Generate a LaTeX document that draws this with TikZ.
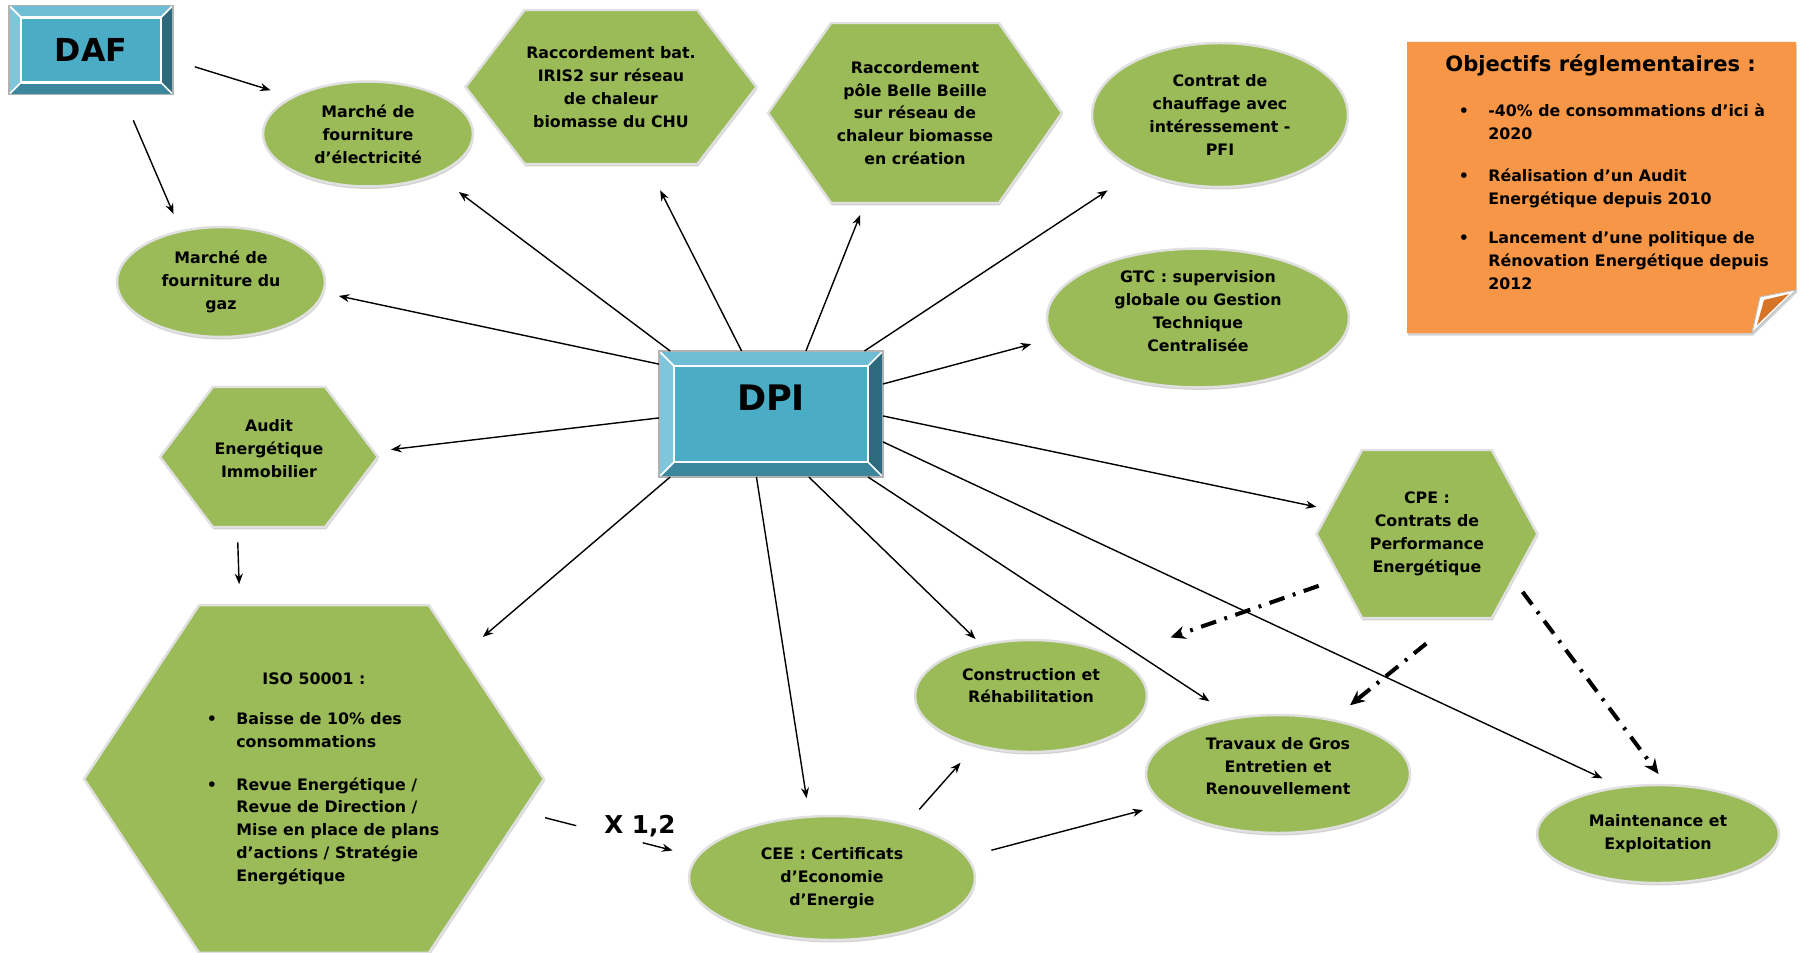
\documentclass[tikz,border=0pt]{standalone}
\usepackage{fontspec}
\setmainfont{DejaVu Sans}
\usetikzlibrary{shapes.geometric, shapes.symbols, arrows.meta, calc, shadows}

\definecolor{leaf}{RGB}{155,187,89}
\definecolor{aqua}{RGB}{75,172,198}
\definecolor{aquatop}{RGB}{110,189,212}
\definecolor{aqualeft}{RGB}{128,198,218}
\definecolor{aquaright}{RGB}{45,106,126}
\definecolor{aquabottom}{RGB}{58,135,158}
\definecolor{note}{RGB}{247,150,70}
\definecolor{notedark}{RGB}{214,116,40}

\newcommand{\leaffont}{\fontsize{9}{13}\selectfont\bfseries}
\newcommand{\dotitem}{\llap{\textbullet\hskip 11pt}}

\tikzset{
  leafnode/.style={fill=leaf, draw=white!88!black, line width=1.4pt, align=center,
    font=\leaffont, inner sep=1pt,
    drop shadow={shadow xshift=0.4pt, shadow yshift=-1.4pt, opacity=0.35}},
  oval/.style={leafnode, ellipse},
  hexa/.style={leafnode, signal, signal to=east and west, signal pointer angle=#1},
  hexa/.default=110,
  bluebox/.style={fill=aqua, draw=black!20, line width=0.6pt, inner sep=0pt},
  textonly/.style={font=\leaffont, align=left, inner sep=0pt, anchor=north west},
  arr/.style={-{Stealth[length=6pt,width=4.6pt]}, line width=0.8pt},
  dasharr/.style={-{Stealth[length=8.5pt,width=7.5pt]}, line width=2.3pt,
    dash pattern=on 9pt off 5pt on 1.6pt off 5pt},
}

\begin{document}
\begin{tikzpicture}[x=0.02cm, y=-0.02cm]
\path[use as bounding box, fill=white] (0,0) rectangle (1800,953);

% directions
\node[bluebox, minimum width=3.26cm, minimum height=1.76cm,
  font=\fontsize{18}{20}\selectfont\bfseries] (daf) at (91,50) {DAF};
\node[bluebox, minimum width=4.46cm, minimum height=2.5cm, text depth=18.8pt,
  font=\fontsize{20}{22}\selectfont\bfseries] (dpi) at (771,414) {DPI};

\foreach \bx/\bw in {daf/12, dpi/15} {
  \fill[aquatop] (\bx.north west) -- (\bx.north east) -- ([shift={(-\bw,\bw)}]\bx.north east) -- ([shift={(\bw,\bw)}]\bx.north west) -- cycle;
  \fill[aqualeft] (\bx.north west) -- ([shift={(\bw,\bw)}]\bx.north west) -- ([shift={(\bw,-\bw)}]\bx.south west) -- (\bx.south west) -- cycle;
  \fill[aquaright] (\bx.north east) -- ([shift={(-\bw,\bw)}]\bx.north east) -- ([shift={(-\bw,-\bw)}]\bx.south east) -- (\bx.south east) -- cycle;
  \fill[aquabottom] (\bx.south west) -- ([shift={(\bw,-\bw)}]\bx.south west) -- ([shift={(-\bw,-\bw)}]\bx.south east) -- (\bx.south east) -- cycle;
  \draw[white, line width=1pt] (\bx.north west) -- ([shift={(\bw,\bw)}]\bx.north west)
    (\bx.north east) -- ([shift={(-\bw,\bw)}]\bx.north east)
    (\bx.south west) -- ([shift={(\bw,-\bw)}]\bx.south west)
    (\bx.south east) -- ([shift={(-\bw,-\bw)}]\bx.south east);
  \draw[white, line width=1.6pt] ([shift={(\bw,\bw)}]\bx.north west) rectangle ([shift={(-\bw,-\bw)}]\bx.south east);
  \draw[white!70!black, line width=0.6pt] (\bx.north west) rectangle (\bx.south east);
}

% actions
\node[oval, minimum width=4.2cm, minimum height=2.1cm] (elec) at (368,134) {Marché de\\fourniture\\d’électricité};
\node[oval, minimum width=4.16cm, minimum height=2.2cm] (gaz) at (221,282) {Marché de\\fourniture du\\gaz};
\node[hexa=105, minimum width=5.8cm, minimum height=3.08cm] (iris) at (611,87) {Raccordement bat.\\IRIS2 sur réseau\\de chaleur\\biomasse du CHU};
\node[hexa=110, minimum width=5.88cm, minimum height=3.6cm] (beille) at (915,113) {Raccordement\\pôle Belle Beille\\sur réseau de\\chaleur biomasse\\en création};
\node[oval, minimum width=5.12cm, minimum height=2.88cm] (pfi) at (1220,115) {Contrat de\\chauffage avec\\intéressement -\\PFI};
\node[oval, minimum width=6.04cm, minimum height=2.52cm, text depth=8pt] (gtc) at (1198,318) {GTC : supervision\\globale ou Gestion\\Technique\\Centralisée};
\node[hexa=106, minimum width=4.16cm, minimum height=2.8cm, text depth=10pt] (audit) at (269,457) {Audit\\Energétique\\Immobilier};
\node[hexa=123, minimum width=4.42cm, minimum height=3.36cm] (cpe) at (1427,534) {CPE :\\Contrats de\\Performance\\Energétique};
\node[hexa=113, minimum width=9.2cm, minimum height=6.96cm] (iso) at (314,779) {};
\node[oval, minimum width=4.64cm, minimum height=2.24cm, text depth=12pt] (constr) at (1031,696) {Construction et\\Réhabilitation};
\node[oval, minimum width=5.28cm, minimum height=2.36cm, text depth=9pt] (travaux) at (1278,774) {Travaux de Gros\\Entretien et\\Renouvellement};
\node[oval, minimum width=4.84cm, minimum height=1.96cm] (maint) at (1658,834) {Maintenance et\\Exploitation};
\node[oval, minimum width=5.72cm, minimum height=2.48cm] (cee) at (832,878) {CEE : Certificats\\d’Economie\\d’Energie};

% ISO 50001 text
\node[font=\leaffont, inner sep=0pt] (isohead) at (314,679) {ISO 50001 :};
\node[textonly] (isoA) at (236,712) {\dotitem Baisse de 10\% des\\consommations};
\node[textonly] (isoB) at (236,777) {\dotitem Revue Energétique /\\Revue de Direction /\\Mise en place de plans\\d’actions / Stratégie\\Energétique};

% note
\fill[note, drop shadow={shadow xshift=0.5pt, shadow yshift=-1.5pt, opacity=0.35}]
  (1407,42) -- (1796,42) -- (1796,290) -- (1752,333) -- (1407,333) -- cycle;
\filldraw[fill=white, draw=black!25, line width=0.5pt] (1796,290) -- (1760,297) -- (1752,333) -- cycle;
\fill[notedark] (1789,294) -- (1764,300) -- (1757,325) -- cycle;
\node[font=\fontsize{12}{14}\selectfont\bfseries, anchor=base west, inner sep=0pt] (objtitle) at (1445,72) {Objectifs réglementaires :};
\node[textonly] (objA) at (1488,103.5) {\dotitem -40\% de consommations d’ici à\\2020};
\node[textonly] (objB) at (1488,168.5) {\dotitem Réalisation d’un Audit\\Energétique depuis 2010};
\node[textonly] (objC) at (1488,231.5) {\dotitem Lancement d’une politique de\\Rénovation Energétique depuis\\2012};

% links
\foreach \a/\b/\s/\e in {
  daf.-7/elec.154.6/13pt/12.5pt, daf.-55.7/gaz.128.1/16pt/10pt,
  dpi.148/elec.-31.7/0pt/16pt, dpi.156.9/gaz.-6.3/0pt/8.5pt,
  dpi.115.6/iris.-65.9/0pt/16pt, dpi.61.4/beille.-119.2/0pt/6.6pt,
  dpi.34/pfi.-146.8/0pt/20pt, dpi.15.8/gtc.-172/0pt/12.5pt,
  dpi.-178.7/audit.3.4/0pt/9pt, dpi.-1.8/cpe.166.2/0pt/7pt,
  dpi.-148.4/iso.40.2/0pt/15pt, dpi.-103/cee.110.4/0pt/10pt,
  dpi.-59.7/constr.134.5/0pt/4.3pt, dpi.-33.2/travaux.128.9/0pt/16.5pt,
  dpi.-14.3/maint.129.3/0pt/10.7pt, audit.-114/iso.113.6/8pt/11.4pt,
  cee.36.1/constr.-138/11pt/12.5pt, cee.9.3/travaux.-165.5/14pt/12pt}
  \draw[arr, shorten <=\s, shorten >=\e] (\a) -- (\b);

% ISO -> CEE, broken by the ratio
\coordinate (cut1) at ($(iso.-9.7)!0.305!(cee.171)$);
\coordinate (cut2) at ($(iso.-9.7)!0.69!(cee.171)$);
\draw[arr, -, shorten <=12.7pt] (iso.-9.7) -- (cut1);
\draw[arr, shorten >=14pt] (cut2) -- (cee.171);
\node[font=\fontsize{14}{16}\selectfont\bfseries] (ratio) at (640,826) {X 1,2};

% CPE links
\foreach \a/\b/\s/\e in {cpe.-153.6/constr.25.9/12.5pt/33pt,
  cpe.-71/travaux.45.5/22pt/12.5pt, cpe.-28.9/maint.81.6/8.3pt/7pt}
  \draw[dasharr, shorten <=\s, shorten >=\e] (\a) -- (\b);

\end{tikzpicture}
\end{document}
